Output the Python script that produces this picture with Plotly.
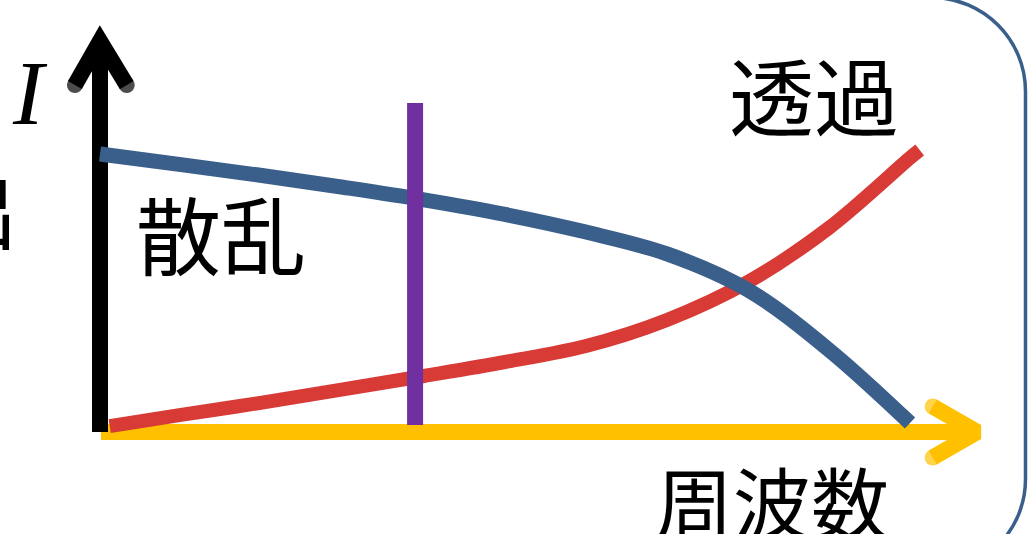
import plotly.graph_objects as go

# ---- data (frequency and intensity in arbitrary units) ----
scatter_freq = [0, 1, 2, 3, 4, 5, 6, 7, 8, 9, 10]
scatter_int = [9.93, 9.55, 9.16, 8.74, 8.29, 7.77, 7.14, 6.36, 5.07, 2.93, 0.32]

trans_freq = [0.12, 1, 2, 3, 4, 5, 6, 7, 8, 9, 10, 10.12]
trans_int = [0.21, 0.61, 1.05, 1.52, 2.0, 2.5, 3.07, 4.0, 5.36, 7.29, 9.79, 10.07]

marker_freq = 3.89
marker_int = [0.25, 11.75]

x_axis_len = 10.83
y_axis_len = 13.96
labels = {"scatter": "散乱", "trans": "透過", "xlabel": "周波数", "ylabel": "I", "left": "出"}

W, H = 1031, 534
X0PX, Y0PX, SX, SY = 100, 432, 81, 28
xr = [(0 - X0PX) / SX, (W - X0PX) / SX]
yr = [(Y0PX - H) / SY, (Y0PX - 0) / SY]

BLUE = "#3A5F8B"
RED = "#D83A36"
PURPLE = "#7030A0"
YELLOW = "#FFC000"

fig = go.Figure()


def arrow(xs, ys, color):
    fig.add_trace(go.Scatter(x=xs, y=ys, mode="lines+markers",
                             line=dict(color=color, width=16),
                             marker=dict(color=color, size=[16, 0, 16], line=dict(width=0)),
                             hoverinfo="skip"))


# yellow x-axis arrow
fig.add_trace(go.Scatter(x=[0.012, x_axis_len], y=[0, 0], mode="lines",
                         line=dict(color=YELLOW, width=16), hoverinfo="skip"))
arrow([x_axis_len - 0.55, x_axis_len, x_axis_len - 0.55], [0.91, 0, -0.91], YELLOW)
# black y-axis arrow
fig.add_trace(go.Scatter(x=[0, 0], y=[0, y_axis_len], mode="lines",
                         line=dict(color="black", width=16), hoverinfo="skip"))
arrow([-0.31, 0, 0.33], [y_axis_len - 1.57, y_axis_len, y_axis_len - 1.57], "black")

# curves
fig.add_trace(go.Scatter(x=trans_freq, y=trans_int, mode="lines", line_shape="spline",
                         line=dict(color=RED, width=14), hoverinfo="skip"))
fig.add_trace(go.Scatter(x=scatter_freq, y=scatter_int, mode="lines", line_shape="spline",
                         line=dict(color=BLUE, width=15), hoverinfo="skip"))
fig.add_trace(go.Scatter(x=[marker_freq, marker_freq], y=marker_int, mode="lines",
                         line=dict(color=PURPLE, width=16), hoverinfo="skip"))


def px(x):
    return x / W


def py(y):
    return 1 - y / H


# rounded frame on the right
R, K = 94, 0.5523
right, top, bottom = 1025.5, -2.5, 573
path = (
    f"M {px(-50)},{py(top)} L {px(right - R)},{py(top)} "
    f"C {px(right - R + R * K)},{py(top)} {px(right)},{py(top + R - R * K)} {px(right)},{py(top + R)} "
    f"L {px(right)},{py(bottom - R)} "
    f"C {px(right)},{py(bottom - R + R * K)} {px(right - R + R * K)},{py(bottom)} {px(right - R)},{py(bottom)} "
    f"L {px(-50)},{py(bottom)}"
)
fig.add_shape(type="path", path=path, xref="paper", yref="paper",
              line=dict(color=BLUE, width=3.5), fillcolor="rgba(0,0,0,0)")

CJK = "Noto Sans CJK JP"
ann = [
    (labels["scatter"], 221, 231, "center", CJK, 85, "normal"),
    (labels["trans"], 814, 93, "center", CJK, 85, "normal"),
    (labels["xlabel"], 772, 500, "center", CJK, 78, "normal"),
    (labels["left"], 20, 207, "right", CJK, 84, "normal"),
    (labels["ylabel"], 30, 93, "center", "Liberation Serif", 92, "italic"),
]
for text, x, y, xa, fam, size, style in ann:
    fig.add_annotation(x=px(x), y=py(y), xref="paper", yref="paper", text=text,
                       showarrow=False, xanchor=xa, yanchor="middle",
                       font=dict(family=fam, size=size, color="black", style=style))

fig.update_layout(width=W, height=H, margin=dict(l=0, r=0, t=0, b=0),
                  paper_bgcolor="white", plot_bgcolor="white", showlegend=False,
                  xaxis=dict(range=xr, visible=False, fixedrange=True),
                  yaxis=dict(range=yr, visible=False, fixedrange=True))

fig.write_html("out.html", config={"displayModeBar": False},
               post_script="document.body.style.margin='0';document.body.style.overflow='hidden';")
